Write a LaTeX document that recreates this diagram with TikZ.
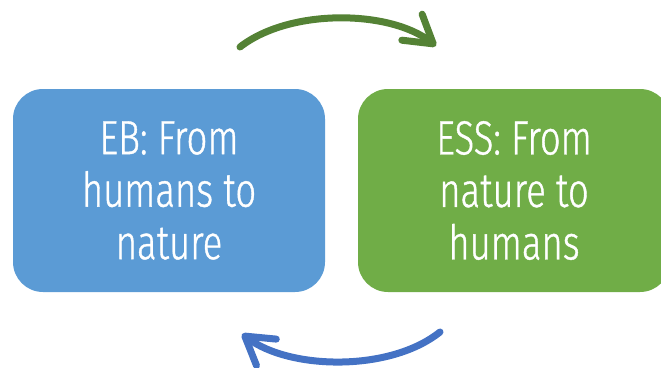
\documentclass[tikz,border=0pt]{standalone}
\usepackage{fontspec}
\setmainfont{Fira Sans Light}[FakeStretch=0.76,FakeBold=0.8]
\usetikzlibrary{arrows.meta}
\definecolor{ebblue}{HTML}{5B9BD5}
\definecolor{essgreen}{HTML}{70AD47}
\definecolor{fwdgreen}{HTML}{548235}
\definecolor{backblue}{HTML}{4472C4}

\begin{document}
\begin{tikzpicture}[x=1pt,y=-1pt,
  panel/.style={rounded corners=30pt, minimum width=312pt, minimum height=203pt,
    text=white, align=center, inner sep=0pt,
    font=\fontsize{48}{52.5}\selectfont},
  cyclearrow/.style={line width=7pt, line cap=round,
    -{Straight Barb[length=27pt,width=33pt,round]}}]
\clip (0,0) rectangle (661,367);
\useasboundingbox (0,0) rectangle (661,367);

% the two panels
\node[panel, fill=ebblue]   (eb)  at (169,190.5) {EB: From\\humans to\\nature};
\node[panel, fill=essgreen] (ess) at (514,190.5) {ESS: From\\nature to\\humans};

% ends of the cycle arrows
\coordinate (fwdfrom) at (240,47);
\coordinate (fwdto)   at (436,46);
\coordinate (backfrom) at (440,332);
\coordinate (backto)   at (242,334);

\draw[cyclearrow, fwdgreen] (fwdfrom) .. controls (290,8) and (390,10) .. (fwdto);
\draw[cyclearrow, backblue] (backfrom) .. controls (390,372) and (290,370) .. (backto);
\end{tikzpicture}
\end{document}
